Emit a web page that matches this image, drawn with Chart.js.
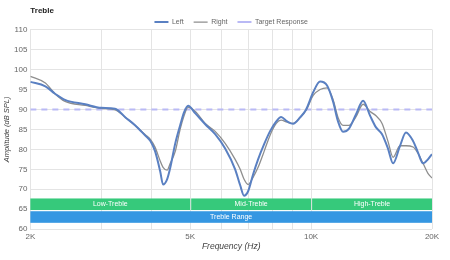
<!DOCTYPE html>
<html>
<head>
<meta charset="utf-8">
<script src="https://cdn.jsdelivr.net/npm/chart.js@4/dist/chart.umd.min.js"></script>
<style>
  html, body { margin: 0; padding: 0; background: #fff; }
  #wrap { width: 450px; height: 260px; }
</style>
</head>
<body>
<div id="wrap"><canvas id="myChart"></canvas></div>
<script>
// frequencies (Hz) and measured amplitudes (dB SPL)
var freqs = [2000, 2180, 2300, 2440, 2740, 3000, 3250, 3450, 3650, 3860, 3980, 4090, 4210, 4280, 4380, 4460, 4590, 4720, 4830, 4940,
  5150, 5450, 5770, 6110, 6470, 6660, 6810, 6970, 7170, 7380, 7640, 7900, 8190, 8420, 8720, 9020, 9390, 9720,
  10120, 10530, 10960, 11340, 11670, 12010, 12430, 12940, 13470, 14030, 14510, 15020, 15540, 16000, 16650, 17230,
  17940, 18460, 19000, 19540, 20000];
var leftValues = [96.9, 95.8, 94.0, 92.4, 91.3, 90.4, 90.2, 88.0, 86.0, 83.5, 82.1, 79.5, 74.5, 71.2, 72.5, 75.4, 81.5, 86.0, 89.3, 90.9,
  89.0, 86.3, 83.8, 80.2, 75.0, 71.0, 68.4, 69.5, 73.7, 77.5, 81.3, 84.5, 87.0, 88.1, 87.0, 86.4, 88.0, 90.0,
  94.3, 97.0, 96.0, 92.0, 87.0, 84.4, 85.2, 88.8, 92.2, 88.4, 85.5, 83.8, 80.2, 76.5, 80.9, 84.2,
  82.1, 79.2, 76.5, 77.5, 78.8];
var rightValues = [98.3, 96.6, 94.0, 92.0, 91.0, 90.3, 89.9, 88.0, 86.0, 83.7, 82.5, 80.5, 77.1, 75.5, 74.8, 76.5, 79.5, 85.0, 88.5, 90.5,
  89.5, 86.5, 84.5, 81.5, 77.5, 75.0, 72.5, 71.2, 73.0, 75.5, 79.5, 83.5, 86.5, 87.3, 86.8, 86.5, 88.0, 89.8,
  93.5, 95.0, 95.4, 92.5, 88.0, 86.0, 86.0, 88.2, 91.3, 89.5, 88.4, 86.5, 82.0, 78.0, 80.9, 80.9,
  80.6, 79.0, 76.5, 74.0, 72.8];
var targetLevel = 90;

// x axis ticks and labels
var xTicks = [2000, 3000, 4000, 5000, 6000, 7000, 8000, 9000, 10000, 20000];
var xLabels = {2000: '2K', 5000: '5K', 10000: '10K', 20000: '20K'};

// frequency bands
var bandNames = ['Low-Treble', 'Mid-Treble', 'High-Treble'];
var bandStarts = [2000, 5000, 10000];
var bandEnds = [5000, 10000, 20000];
var rangeName = 'Treble Range';
var rangeStart = 2000;
var rangeEnd = 20000;

function toPoints(vals) {
  return freqs.map(function(f, i) { return {x: f, y: vals[i]}; });
}

// legend is a bit too tall by default, trim it
var legendTrim = {
  id: 'legendTrim',
  beforeInit: function(chart) {
    var origFit = chart.legend.fit;
    chart.legend.fit = function() {
      origFit.call(this);
      this.height -= 6;
    };
  }
};

var bandsPlugin = {
  id: 'bands',
  beforeDatasetsDraw: function(chart) {
    var ctx = chart.ctx;
    var xs = chart.scales.x;
    var ys = chart.scales.y;
    ctx.save();
    ctx.font = '7px "Liberation Sans", Arial, sans-serif';
    ctx.textAlign = 'center';
    ctx.textBaseline = 'middle';
    var gTop = ys.getPixelForValue(67.7);
    var gBot = ys.getPixelForValue(64.8);
    for (var i = 0; i < bandNames.length; i++) {
      var x1 = xs.getPixelForValue(bandStarts[i]);
      var x2 = xs.getPixelForValue(bandEnds[i]);
      if (i > 0) x1 += 1;
      ctx.fillStyle = '#36c97b';
      ctx.fillRect(x1, gTop, x2 - x1, gBot - gTop);
      ctx.fillStyle = '#ffffff';
      ctx.fillText(bandNames[i], (x1 + x2) / 2, (gTop + gBot) / 2);
    }
    var bTop = ys.getPixelForValue(64.5);
    var bBot = ys.getPixelForValue(61.6);
    var r1 = xs.getPixelForValue(rangeStart);
    var r2 = xs.getPixelForValue(rangeEnd);
    ctx.fillStyle = '#3597e2';
    ctx.fillRect(r1, bTop, r2 - r1, bBot - bTop);
    ctx.fillStyle = '#ffffff';
    ctx.fillText(rangeName, (r1 + r2) / 2, (bTop + bBot) / 2);
    ctx.restore();
  }
};

function renderChart() {
  var ctx = document.getElementById('myChart').getContext('2d');
  Chart.defaults.font.family = '"Liberation Sans", Arial, sans-serif';
  Chart.defaults.font.size = 8;
  Chart.defaults.color = '#666';

  var myChart = new Chart(ctx, {
    type: 'line',
    data: {
      datasets: [
        {
          label: 'Left',
          data: toPoints(leftValues),
          borderColor: '#5a80c2',
          borderWidth: 2,
          pointRadius: 0,
          cubicInterpolationMode: 'monotone',
          fill: false,
          order: 1
        },
        {
          label: 'Right',
          data: toPoints(rightValues),
          borderColor: '#8e8e8e',
          borderWidth: 1.3,
          pointRadius: 0,
          cubicInterpolationMode: 'monotone',
          fill: false,
          order: 2
        },
        {
          label: 'Target Response',
          data: [{x: xTicks[0], y: targetLevel}, {x: xTicks[xTicks.length - 1], y: targetLevel}],
          borderColor: '#b9b9f5',
          borderWidth: 2,
          borderDash: [6, 5],
          pointRadius: 0,
          fill: false,
          order: 3
        }
      ]
    },
    options: {
      responsive: true,
      maintainAspectRatio: false,
      animation: false,
      layout: { padding: { left: 0, right: 18, top: 0, bottom: 8 } },
      plugins: {
        title: {
          display: true,
          text: 'Treble',
          align: 'start',
          fullSize: false,
          color: '#222',
          font: { size: 8, weight: 'bold' },
          padding: { top: 6, bottom: -7 }
        },
        legend: {
          position: 'top',
          fullSize: false,
          labels: {
            usePointStyle: true,
            pointStyle: 'line',
            pointStyleWidth: 14,
            boxHeight: 8,
            padding: 10,
            color: '#666',
            font: { size: 7 }
          }
        },
        tooltip: { enabled: false }
      },
      scales: {
        x: {
          type: 'logarithmic',
          min: 2000,
          max: 20000,
          afterBuildTicks: function(axis) {
            axis.ticks = xTicks.map(function(v) { return {value: v}; });
          },
          ticks: {
            autoSkip: false,
            maxRotation: 0,
            padding: 3,
            callback: function(v) { return xLabels[v] || ''; }
          },
          grid: { color: '#e4e4e4', drawTicks: false },
          border: { display: false },
          title: {
            display: true,
            text: 'Frequency (Hz)',
            font: { size: 8.5, style: 'italic' },
            color: '#444',
            padding: { top: -3, bottom: 0 }
          }
        },
        y: {
          min: 60,
          max: 110,
          ticks: { stepSize: 5, padding: 3 },
          grid: { color: '#e4e4e4', drawTicks: false },
          border: { display: false },
          title: {
            display: true,
            text: 'Amplitude (dB SPL)',
            font: { size: 7.5, style: 'italic' },
            color: '#444',
            padding: { top: 2, bottom: 0 }
          }
        }
      }
    },
    plugins: [legendTrim, bandsPlugin]
  });
}
document.addEventListener('DOMContentLoaded', renderChart);
</script>
</body>
</html>
